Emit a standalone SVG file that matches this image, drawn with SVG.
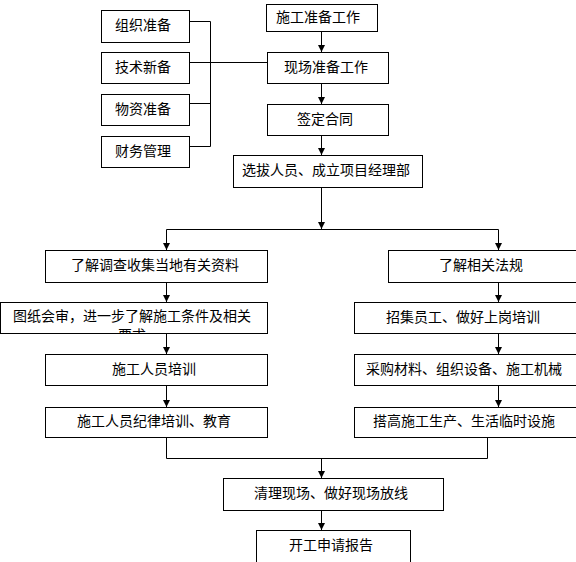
<svg xmlns="http://www.w3.org/2000/svg" width="576" height="562" viewBox="0 0 576 562">
<defs>
<style>
rect.b{fill:#fff;stroke:#000;stroke-width:1}
text{font-family:"Noto Sans CJK SC","Noto Sans",sans-serif;font-size:14px;fill:#000;text-anchor:middle;dominant-baseline:central}
#connectors path{fill:none;stroke:#000;stroke-width:1}
</style>
<marker id="ah" markerWidth="7" markerHeight="7" refX="7" refY="3.5" orient="auto" markerUnits="userSpaceOnUse"><path d="M0,0 L7,3.5 L0,7 z" fill="#000"/></marker>
<clipPath id="c1"><rect x="1" y="303" width="266" height="30"/></clipPath>
</defs>
<rect width="576" height="562" fill="#fff"/>
<g id="connectors">
<path d="M189,21.5H210.5V146.5H189M189,103.5H210.5M189,62.5H267"/>
<path d="M321.5,31.5V52" marker-end="url(#ah)"/>
<path d="M321.5,83.5V104" marker-end="url(#ah)"/>
<path d="M321.5,135.5V155" marker-end="url(#ah)"/>
<path d="M321.5,187.5V229" marker-end="url(#ah)"/>
<path d="M166.5,250V229.5H498.5V250"/>
<path d="M166.5,240V250" marker-end="url(#ah)"/>
<path d="M498.5,240V250" marker-end="url(#ah)"/>
<path d="M166.5,282.5V302" marker-end="url(#ah)"/>
<path d="M166.5,333.5V354" marker-end="url(#ah)"/>
<path d="M166.5,385.5V407" marker-end="url(#ah)"/>
<path d="M498.5,282.5V302" marker-end="url(#ah)"/>
<path d="M498.5,333.5V354" marker-end="url(#ah)"/>
<path d="M498.5,385.5V407" marker-end="url(#ah)"/>
<path d="M166.5,437.5V458.5H487.5V437.5"/>
<path d="M321.5,458.5V478" marker-end="url(#ah)"/>
<path d="M321.5,510.5V530" marker-end="url(#ah)"/>
</g>
<g id="n1"><rect class="b" x="101.5" y="10.5" width="88" height="32"/><text x="143" y="24">组织准备</text></g>
<g id="n2"><rect class="b" x="101.5" y="52.5" width="88" height="31"/><text x="143" y="66">技术新备</text></g>
<g id="n3"><rect class="b" x="101.5" y="94.5" width="88" height="31"/><text x="143" y="108">物资准备</text></g>
<g id="n4"><rect class="b" x="101.5" y="136.5" width="88" height="31"/><text x="143" y="150">财务管理</text></g>
<g id="n5"><rect class="b" x="266.5" y="4.5" width="111" height="27"/><text x="318" y="16">施工准备工作</text></g>
<g id="n6"><rect class="b" x="267.5" y="52.5" width="121" height="31"/><text x="326" y="66">现场准备工作</text></g>
<g id="n7"><rect class="b" x="267.5" y="104.5" width="121" height="31"/><text x="325" y="118">签定合同</text></g>
<g id="n8"><rect class="b" x="233.5" y="155.5" width="189" height="32"/><text x="326" y="169">选拔人员、成立项目经理部</text></g>
<g id="n9"><rect class="b" x="45.5" y="250.5" width="222" height="32"/><text x="155" y="264">了解调查收集当地有关资料</text></g>
<g id="n10"><rect class="b" x="0.5" y="302.5" width="267" height="31"/><g clip-path="url(#c1)"><text x="132" y="315">图纸会审，进一步了解施工条件及相关</text><text x="132" y="334">要求</text></g></g>
<g id="n11"><rect class="b" x="45.5" y="354.5" width="222" height="31"/><text x="154" y="368">施工人员培训</text></g>
<g id="n12"><rect class="b" x="45.5" y="407.5" width="222" height="30"/><text x="154" y="420">施工人员纪律培训、教育</text></g>
<g id="n13"><rect class="b" x="388.5" y="250.5" width="200" height="32"/><text x="481" y="264">了解相关法规</text></g>
<g id="n14"><rect class="b" x="354.5" y="302.5" width="240" height="31"/><text x="463" y="316">招集员工、做好上岗培训</text></g>
<g id="n15"><rect class="b" x="354.5" y="354.5" width="240" height="31"/><text x="464" y="368">采购材料、组织设备、施工机械</text></g>
<g id="n16"><rect class="b" x="354.5" y="407.5" width="240" height="30"/><text x="464" y="420">搭高施工生产、生活临时设施</text></g>
<g id="n17"><rect class="b" x="223.5" y="478.5" width="220" height="32"/><text x="331" y="492">清理现场、做好现场放线</text></g>
<g id="n18"><rect class="b" x="256.5" y="530.5" width="154" height="40"/><text x="331" y="544">开工申请报告</text></g>
</svg>
